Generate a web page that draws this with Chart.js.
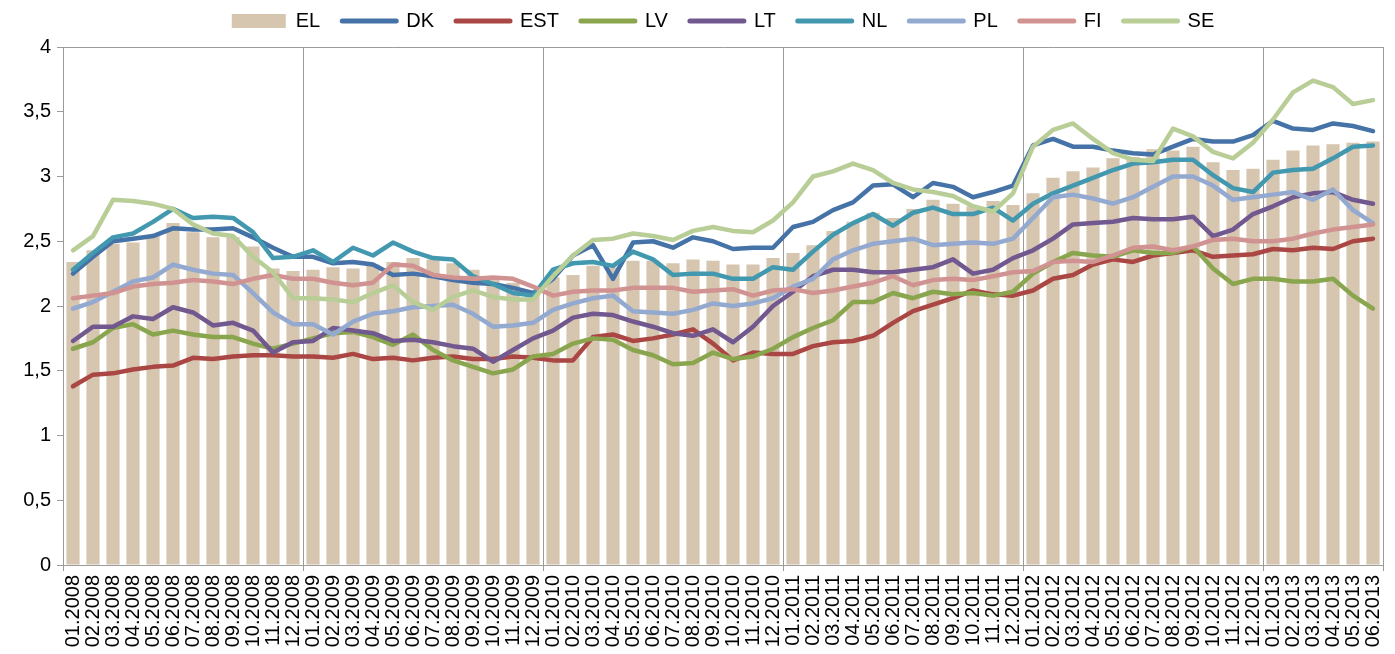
<!DOCTYPE html>
<html>
<head>
<meta charset="utf-8">
<title>Rates 2008-2013</title>
<script src="https://cdn.jsdelivr.net/npm/chart.js@4.4.1/dist/chart.umd.min.js"></script>
<style>
  html, body { margin: 0; padding: 0; background: #fff; }
  #wrap { width: 1395px; height: 654px; position: relative; }
</style>
</head>
<body>
<div id="wrap"><canvas id="chart"></canvas></div>
<script>
const months = [
  '01.2008', '02.2008', '03.2008', '04.2008', '05.2008', '06.2008', '07.2008', '08.2008', '09.2008', '10.2008', '11.2008', '12.2008',
  '01.2009', '02.2009', '03.2009', '04.2009', '05.2009', '06.2009', '07.2009', '08.2009', '09.2009', '10.2009', '11.2009', '12.2009',
  '01.2010', '02.2010', '03.2010', '04.2010', '05.2010', '06.2010', '07.2010', '08.2010', '09.2010', '10.2010', '11.2010', '12.2010',
  '01.2011', '02.2011', '03.2011', '04.2011', '05.2011', '06.2011', '07.2011', '08.2011', '09.2011', '10.2011', '11.2011', '12.2011',
  '01.2012', '02.2012', '03.2012', '04.2012', '05.2012', '06.2012', '07.2012', '08.2012', '09.2012', '10.2012', '11.2012', '12.2012',
  '01.2013', '02.2013', '03.2013', '04.2013', '05.2013', '06.2013'
];

const yTickLabels = ['0', '0,5', '1', '1,5', '2', '2,5', '3', '3,5', '4'];

const el = [2.34, 2.43, 2.48, 2.49, 2.54, 2.64, 2.57, 2.53, 2.53, 2.46, 2.29, 2.27,
  2.28, 2.30, 2.29, 2.32, 2.34, 2.37, 2.36, 2.33, 2.28, 2.22, 2.18, 2.10,
  2.22, 2.24, 2.31, 2.30, 2.35, 2.35, 2.33, 2.36, 2.35, 2.32, 2.32, 2.37,
  2.41, 2.47, 2.58, 2.65, 2.72, 2.68, 2.75, 2.82, 2.79, 2.77, 2.81, 2.78,
  2.87, 2.99, 3.04, 3.07, 3.14, 3.15, 3.21, 3.20, 3.23, 3.11, 3.05, 3.06,
  3.13, 3.20, 3.24, 3.25, 3.26, 3.27];

const dk = [2.25, 2.38, 2.50, 2.52, 2.54, 2.60, 2.59, 2.59, 2.60, 2.53, 2.45, 2.38,
  2.38, 2.33, 2.34, 2.32, 2.24, 2.25, 2.23, 2.20, 2.18, 2.17, 2.14, 2.10,
  2.21, 2.39, 2.47, 2.21, 2.49, 2.50, 2.45, 2.53, 2.50, 2.44, 2.45, 2.45,
  2.61, 2.65, 2.74, 2.80, 2.93, 2.94, 2.84, 2.95, 2.92, 2.84, 2.88, 2.93,
  3.24, 3.29, 3.23, 3.23, 3.20, 3.18, 3.17, 3.23, 3.29, 3.27, 3.27, 3.32,
  3.43, 3.37, 3.36, 3.41, 3.39, 3.35];

const est = [1.38, 1.47, 1.48, 1.51, 1.53, 1.54, 1.60, 1.59, 1.61, 1.62, 1.62, 1.61,
  1.61, 1.60, 1.63, 1.59, 1.60, 1.58, 1.60, 1.61, 1.59, 1.59, 1.61, 1.60,
  1.58, 1.58, 1.76, 1.78, 1.73, 1.75, 1.78, 1.82, 1.71, 1.58, 1.64, 1.63,
  1.63, 1.69, 1.72, 1.73, 1.77, 1.87, 1.96, 2.01, 2.06, 2.12, 2.09, 2.08,
  2.12, 2.21, 2.24, 2.32, 2.36, 2.34, 2.39, 2.41, 2.43, 2.38, 2.39, 2.40,
  2.44, 2.43, 2.45, 2.44, 2.50, 2.52];

const lv = [1.67, 1.72, 1.83, 1.86, 1.78, 1.81, 1.78, 1.76, 1.76, 1.71, 1.67, 1.71,
  1.75, 1.79, 1.80, 1.76, 1.70, 1.78, 1.66, 1.58, 1.53, 1.48, 1.51, 1.61,
  1.63, 1.71, 1.75, 1.74, 1.66, 1.62, 1.55, 1.56, 1.64, 1.59, 1.61, 1.67,
  1.76, 1.83, 1.89, 2.03, 2.03, 2.10, 2.06, 2.11, 2.09, 2.10, 2.08, 2.11,
  2.25, 2.34, 2.41, 2.39, 2.38, 2.43, 2.41, 2.41, 2.46, 2.29, 2.17, 2.21,
  2.21, 2.19, 2.19, 2.21, 2.08, 1.98];

const lt = [1.73, 1.84, 1.84, 1.92, 1.90, 1.99, 1.95, 1.85, 1.87, 1.81, 1.64, 1.72,
  1.73, 1.83, 1.81, 1.79, 1.73, 1.74, 1.72, 1.69, 1.67, 1.57, 1.66, 1.75,
  1.81, 1.91, 1.94, 1.93, 1.88, 1.84, 1.79, 1.77, 1.82, 1.72, 1.84, 2.00,
  2.11, 2.23, 2.28, 2.28, 2.26, 2.26, 2.28, 2.30, 2.36, 2.25, 2.28, 2.37,
  2.43, 2.52, 2.63, 2.64, 2.65, 2.68, 2.67, 2.67, 2.69, 2.54, 2.59, 2.71,
  2.77, 2.84, 2.87, 2.88, 2.82, 2.79];

const nl = [2.28, 2.41, 2.53, 2.56, 2.65, 2.75, 2.68, 2.69, 2.68, 2.57, 2.37, 2.38,
  2.43, 2.34, 2.45, 2.39, 2.49, 2.42, 2.37, 2.36, 2.23, 2.17, 2.10, 2.08,
  2.28, 2.33, 2.34, 2.31, 2.42, 2.36, 2.24, 2.25, 2.25, 2.21, 2.21, 2.30,
  2.28, 2.42, 2.55, 2.64, 2.71, 2.62, 2.72, 2.76, 2.71, 2.71, 2.76, 2.66,
  2.79, 2.87, 2.93, 2.99, 3.05, 3.10, 3.11, 3.13, 3.13, 3.01, 2.91, 2.88,
  3.03, 3.05, 3.06, 3.14, 3.23, 3.24];

const pl = [1.98, 2.03, 2.11, 2.19, 2.22, 2.32, 2.28, 2.25, 2.24, 2.10, 1.95, 1.86,
  1.86, 1.78, 1.88, 1.94, 1.96, 1.99, 2.00, 2.01, 1.94, 1.84, 1.85, 1.87,
  1.97, 2.02, 2.06, 2.08, 1.96, 1.95, 1.94, 1.97, 2.02, 2.00, 2.02, 2.06,
  2.15, 2.21, 2.36, 2.43, 2.48, 2.50, 2.52, 2.47, 2.48, 2.49, 2.48, 2.52,
  2.68, 2.84, 2.86, 2.83, 2.79, 2.84, 2.92, 3.00, 3.00, 2.93, 2.82, 2.84,
  2.86, 2.88, 2.82, 2.90, 2.74, 2.64];

const fi = [2.06, 2.08, 2.10, 2.15, 2.17, 2.18, 2.20, 2.19, 2.17, 2.21, 2.24, 2.21,
  2.21, 2.18, 2.16, 2.18, 2.32, 2.31, 2.24, 2.22, 2.21, 2.22, 2.21, 2.15,
  2.08, 2.11, 2.12, 2.12, 2.14, 2.14, 2.14, 2.11, 2.12, 2.13, 2.08, 2.12,
  2.13, 2.10, 2.12, 2.15, 2.18, 2.23, 2.16, 2.20, 2.21, 2.20, 2.23, 2.26,
  2.27, 2.34, 2.35, 2.34, 2.39, 2.45, 2.46, 2.43, 2.46, 2.51, 2.52, 2.50,
  2.50, 2.52, 2.56, 2.59, 2.61, 2.63];

const se = [2.43, 2.54, 2.82, 2.81, 2.79, 2.75, 2.63, 2.56, 2.54, 2.38, 2.26, 2.06,
  2.06, 2.05, 2.03, 2.10, 2.16, 2.03, 1.97, 2.07, 2.12, 2.07, 2.05, 2.05,
  2.23, 2.39, 2.51, 2.52, 2.56, 2.54, 2.51, 2.58, 2.61, 2.58, 2.57, 2.66,
  2.80, 3.00, 3.04, 3.10, 3.05, 2.95, 2.90, 2.88, 2.85, 2.77, 2.73, 2.87,
  3.23, 3.36, 3.41, 3.29, 3.18, 3.13, 3.12, 3.37, 3.31, 3.19, 3.14, 3.26,
  3.44, 3.65, 3.74, 3.69, 3.56, 3.59];

const gridGray = '#9b9b9b';

Chart.defaults.font.family = '"Liberation Sans", Arial, sans-serif';
Chart.defaults.color = '#000';

// later series sit on top, so the order counts down
const lineSet = (label, data, color, order) => ({
  type: 'line',
  label: label,
  data: data,
  borderColor: color,
  backgroundColor: color,
  borderWidth: 4.5,
  pointRadius: 0,
  tension: 0,
  borderJoinStyle: 'round',
  borderCapStyle: 'round',
  order: order
});

const ctx = document.getElementById('chart');

new Chart(ctx, {
  type: 'bar',
  data: {
    labels: months,
    datasets: [
      {
        type: 'bar',
        label: 'EL',
        data: el,
        backgroundColor: '#D6C5AF',
        categoryPercentage: 1,
        barPercentage: 0.66,
        order: 9
      },
      lineSet('DK', dk, '#4572A7', 8),
      lineSet('EST', est, '#AA4643', 7),
      lineSet('LV', lv, '#89A54E', 6),
      lineSet('LT', lt, '#71588F', 5),
      lineSet('NL', nl, '#4198AF', 4),
      lineSet('PL', pl, '#93A9CF', 3),
      lineSet('FI', fi, '#D19392', 2),
      lineSet('SE', se, '#B9CD96', 1)
    ]
  },
  options: {
    responsive: true,
    maintainAspectRatio: false,
    animation: false,
    devicePixelRatio: 1,
    events: [],
    layout: {
      padding: { top: -11, right: 12, bottom: 0, left: 0 }
    },
    plugins: {
      tooltip: { enabled: false },
      legend: {
        position: 'top',
        fullSize: false,
        labels: {
          font: { size: 20 },
          padding: 22,
          usePointStyle: true,
          pointStyleWidth: 54,
          boxHeight: 14,
          generateLabels: (chart) => chart.data.datasets.map((ds, i) => ({
            text: ds.label,
            fillStyle: ds.backgroundColor,
            strokeStyle: ds.type === 'bar' ? ds.backgroundColor : ds.borderColor,
            lineWidth: ds.type === 'bar' ? 0 : 5,
            lineCap: 'round',
            pointStyle: ds.type === 'bar' ? 'rect' : 'line',
            hidden: false,
            datasetIndex: i
          }))
        }
      },
      // empty title used as a small gap between legend and plot
      title: {
        display: true,
        text: '',
        weight: 500,
        fullSize: false,
        padding: 0,
        font: { size: 5 }
      }
    },
    scales: {
      x: {
        offset: true,
        grid: {
          offset: true,
          color: (c) => (c.tick === undefined || c.index % 12 === 0) ? gridGray : 'transparent',
          tickColor: (c) => (c.tick === undefined || c.index % 12 === 0) ? gridGray : 'transparent',
          tickLength: 6
        },
        border: { color: gridGray, width: 1 },
        ticks: {
          autoSkip: false,
          minRotation: 90,
          maxRotation: 90,
          padding: 4,
          font: { size: 20 }
        },
        afterFit: (scale) => {
          scale.height = 89;
          scale.paddingLeft = 0;
          scale.paddingRight = 0;
        }
      },
      y: {
        min: 0,
        max: 4,
        grid: {
          color: (c) => (c.tick && c.tick.value === 4) ? gridGray : 'transparent',
          tickColor: gridGray,
          tickLength: 6
        },
        border: { color: gridGray, width: 1 },
        ticks: {
          stepSize: 0.5,
          padding: 6,
          font: { size: 20 },
          callback: (value) => yTickLabels[Math.round(value * 2)]
        },
        afterFit: (scale) => { scale.width = 63; }
      }
    }
  }
});
</script>
</body>
</html>
